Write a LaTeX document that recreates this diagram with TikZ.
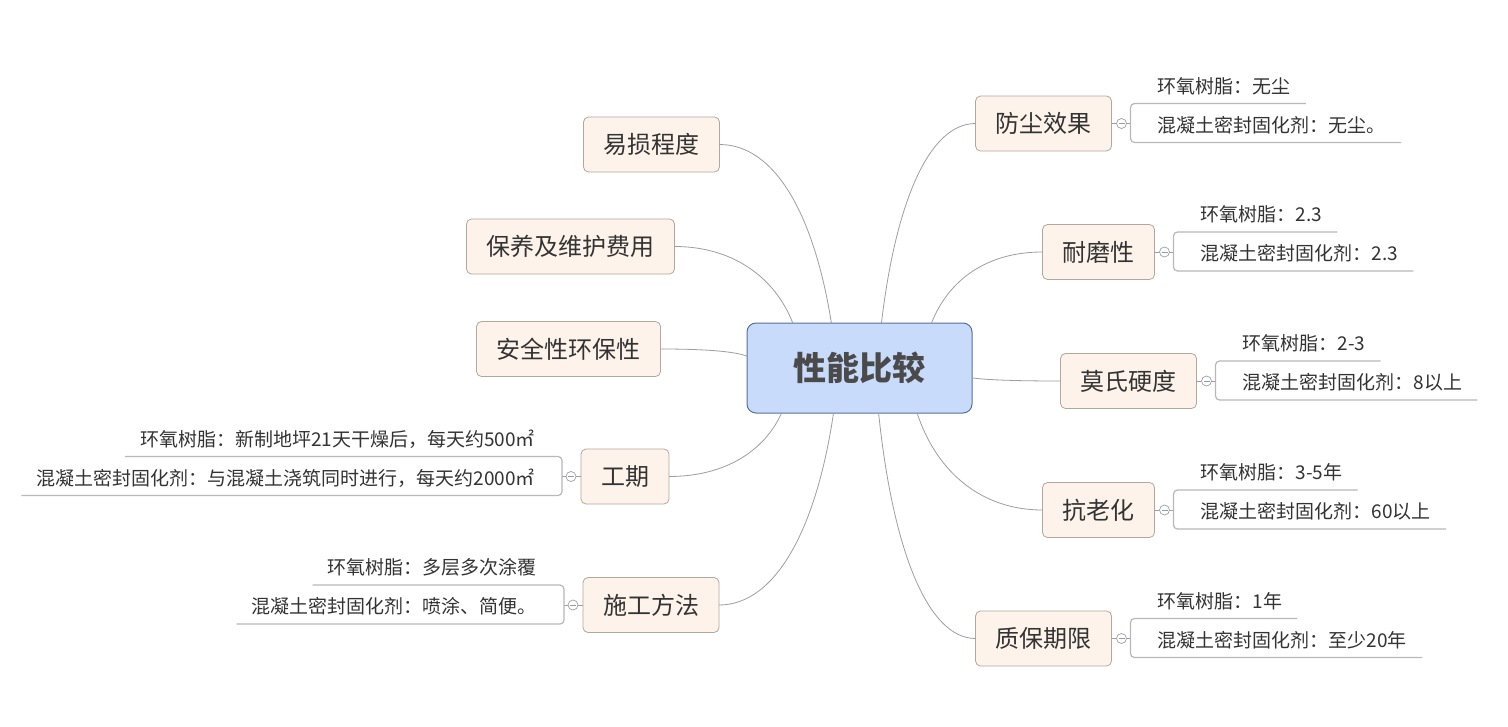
\documentclass[tikz,border=0pt]{standalone}
\usepackage{fontspec}
\setmainfont{Noto Sans CJK SC}
\definecolor{corefill}{HTML}{C8DBFB}
\definecolor{coredraw}{HTML}{56709E}
\definecolor{coretext}{HTML}{4A4A4A}
\definecolor{topicfill}{HTML}{FDF3EA}
\definecolor{topicdraw}{HTML}{B2A79C}
\definecolor{ink}{HTML}{333333}
\definecolor{linkgray}{HTML}{9E9E9E}
\definecolor{undergray}{HTML}{B8B8B8}
\definecolor{btnminus}{HTML}{8A9BC0}
\begin{document}
\begin{tikzpicture}[x=1pt, y=-1pt,
    core/.style={draw=coredraw, fill=corefill, line width=1pt, rounded corners=9pt,
      minimum width=225pt, minimum height=90pt, outer sep=0pt, text=coretext,
      font=\fontsize{33}{33}\selectfont\bfseries},
    topic/.style={draw=topicdraw, fill=topicfill, line width=0.8pt, rounded corners=5pt,
      minimum height=55pt, inner xsep=20pt, outer sep=0pt, text=ink,
      font=\fontsize{24}{24}\selectfont},
    leaf/.style={inner xsep=15pt, inner ysep=0pt, text height=16pt, text depth=10pt,
      text=ink, font=\fontsize{19}{19}\selectfont},
    link/.style={draw=linkgray, line width=0.8pt},
    under/.style={draw=undergray, line width=1.2pt, rounded corners=4pt},
    btn/.style={circle, draw=linkgray, fill=white, line width=0.7pt, minimum size=10pt,
      inner sep=0pt, path picture={\draw[btnminus, line width=0.8pt]
        ([xshift=-3pt]path picture bounding box.center) --
        ([xshift=3pt]path picture bounding box.center);}}]
    \fill[white] (0,0) rectangle (1508,726);
    \useasboundingbox (0,0) rectangle (1508,726);

    % central topic
    \node[core] (core) at (859.5,368) {性能比较};

    % right branches
    \node[topic] (dust) at (1043.5,123.5) {防尘效果};
    \node[topic] (wear) at (1098.5,252) {耐磨性};
    \node[topic] (mohs) at (1128.5,381) {莫氏硬度};
    \node[topic] (aging) at (1098.5,510) {抗老化};
    \node[topic] (warranty) at (1043.5,638.5) {质保期限};

    % left branches
    \node[topic] (damage) at (651.5,144.5) {易损程度};
    \node[topic] (upkeep) at (570.5,246.5) {保养及维护费用};
    \node[topic] (safety) at (568.5,349) {安全性环保性};
    \node[topic] (period) at (625,476.5) {工期};
    \node[topic] (method) at (651,605) {施工方法};

    % curved links
    \draw[link] (core.64) .. controls +(14,-119) and +(-47,0) .. (dust.west);
    \draw[link] (core.32) .. controls +(17,-43) and +(-56,0) .. (wear.west);
    \draw[link] (core.-5) .. controls +(13,2) and +(-45,0) .. (mohs.west);
    \draw[link] (core.-38) .. controls +(19,58) and +(-62,0) .. (aging.west);
    \draw[link] (core.-67) .. controls +(14,136) and +(-48,0) .. (warranty.west);
    \draw[link] (core.122) .. controls +(-17,-107) and +(56,0) .. (damage.east);
    \draw[link] (core.146) .. controls +(-18,-46) and +(58,0) .. (upkeep.east);
    \draw[link] (core.174) .. controls +(-13,-5) and +(43,0) .. (safety.east);
    \draw[link] (core.210) .. controls +(-17,38) and +(56,0) .. (period.east);
    \draw[link] (core.240) .. controls +(-17,115) and +(57,0) .. (method.east);

    % leaves of 防尘效果
    \node[btn] (dustbtn) at ([xshift=10pt]dust.east) {};
    \coordinate (dustfork) at ([xshift=19pt]dust.east);
    \node[leaf, anchor=south west] (dusta) at ([xshift=12pt,yshift=20pt]dustfork) {环氧树脂：无尘};
    \node[leaf, anchor=south west] (dustb) at ([xshift=12pt,yshift=-19pt]dustfork) {混凝土密封固化剂：无尘。};
    \draw[link] (dust.east) -- (dustbtn.west) (dustbtn.east) -- (dustfork);
    \draw[under] (dusta.south east) -- (dusta.south west -| dustfork) -- (dustb.south west -| dustfork) -- (dustb.south east);

    % leaves of 耐磨性
    \node[btn] (wearbtn) at ([xshift=10pt]wear.east) {};
    \coordinate (wearfork) at ([xshift=19pt]wear.east);
    \node[leaf, anchor=south west] (weara) at ([xshift=12pt,yshift=20pt]wearfork) {环氧树脂：2.3};
    \node[leaf, anchor=south west] (wearb) at ([xshift=12pt,yshift=-19pt]wearfork) {混凝土密封固化剂：2.3};
    \draw[link] (wear.east) -- (wearbtn.west) (wearbtn.east) -- (wearfork);
    \draw[under] (weara.south east) -- (weara.south west -| wearfork) -- (wearb.south west -| wearfork) -- (wearb.south east);

    % leaves of 莫氏硬度
    \node[btn] (mohsbtn) at ([xshift=10pt]mohs.east) {};
    \coordinate (mohsfork) at ([xshift=19pt]mohs.east);
    \node[leaf, anchor=south west] (mohsa) at ([xshift=12pt,yshift=20pt]mohsfork) {环氧树脂：2-3};
    \node[leaf, anchor=south west] (mohsb) at ([xshift=12pt,yshift=-19pt]mohsfork) {混凝土密封固化剂：8以上};
    \draw[link] (mohs.east) -- (mohsbtn.west) (mohsbtn.east) -- (mohsfork);
    \draw[under] (mohsa.south east) -- (mohsa.south west -| mohsfork) -- (mohsb.south west -| mohsfork) -- (mohsb.south east);

    % leaves of 抗老化
    \node[btn] (agingbtn) at ([xshift=10pt]aging.east) {};
    \coordinate (agingfork) at ([xshift=19pt]aging.east);
    \node[leaf, anchor=south west] (aginga) at ([xshift=12pt,yshift=20pt]agingfork) {环氧树脂：3-5年};
    \node[leaf, anchor=south west] (agingb) at ([xshift=12pt,yshift=-19pt]agingfork) {混凝土密封固化剂：60以上};
    \draw[link] (aging.east) -- (agingbtn.west) (agingbtn.east) -- (agingfork);
    \draw[under] (aginga.south east) -- (aginga.south west -| agingfork) -- (agingb.south west -| agingfork) -- (agingb.south east);

    % leaves of 质保期限
    \node[btn] (warrantybtn) at ([xshift=10pt]warranty.east) {};
    \coordinate (warrantyfork) at ([xshift=19pt]warranty.east);
    \node[leaf, anchor=south west] (warrantya) at ([xshift=12pt,yshift=20pt]warrantyfork) {环氧树脂：1年};
    \node[leaf, anchor=south west] (warrantyb) at ([xshift=12pt,yshift=-19pt]warrantyfork) {混凝土密封固化剂：至少20年};
    \draw[link] (warranty.east) -- (warrantybtn.west) (warrantybtn.east) -- (warrantyfork);
    \draw[under] (warrantya.south east) -- (warrantya.south west -| warrantyfork) -- (warrantyb.south west -| warrantyfork) -- (warrantyb.south east);

    % leaves of 工期
    \node[btn] (periodbtn) at ([xshift=-10pt]period.west) {};
    \coordinate (periodfork) at ([xshift=-19pt]period.west);
    \node[leaf, anchor=south east] (perioda) at ([xshift=-12pt,yshift=20pt]periodfork) {环氧树脂：新制地坪21天干燥后，每天约500㎡};
    \node[leaf, anchor=south east] (periodb) at ([xshift=-12pt,yshift=-19pt]periodfork) {混凝土密封固化剂：与混凝土浇筑同时进行，每天约2000㎡};
    \draw[link] (period.west) -- (periodbtn.east) (periodbtn.west) -- (periodfork);
    \draw[under] (perioda.south west) -- (perioda.south east -| periodfork) -- (periodb.south east -| periodfork) -- (periodb.south west);

    % leaves of 施工方法
    \node[btn] (methodbtn) at ([xshift=-10pt]method.west) {};
    \coordinate (methodfork) at ([xshift=-19pt]method.west);
    \node[leaf, anchor=south east] (methoda) at ([xshift=-12pt,yshift=20pt]methodfork) {环氧树脂：多层多次涂覆};
    \node[leaf, anchor=south east] (methodb) at ([xshift=-12pt,yshift=-19pt]methodfork) {混凝土密封固化剂：喷涂、简便。};
    \draw[link] (method.west) -- (methodbtn.east) (methodbtn.west) -- (methodfork);
    \draw[under] (methoda.south west) -- (methoda.south east -| methodfork) -- (methodb.south east -| methodfork) -- (methodb.south west);
\end{tikzpicture}
\end{document}
